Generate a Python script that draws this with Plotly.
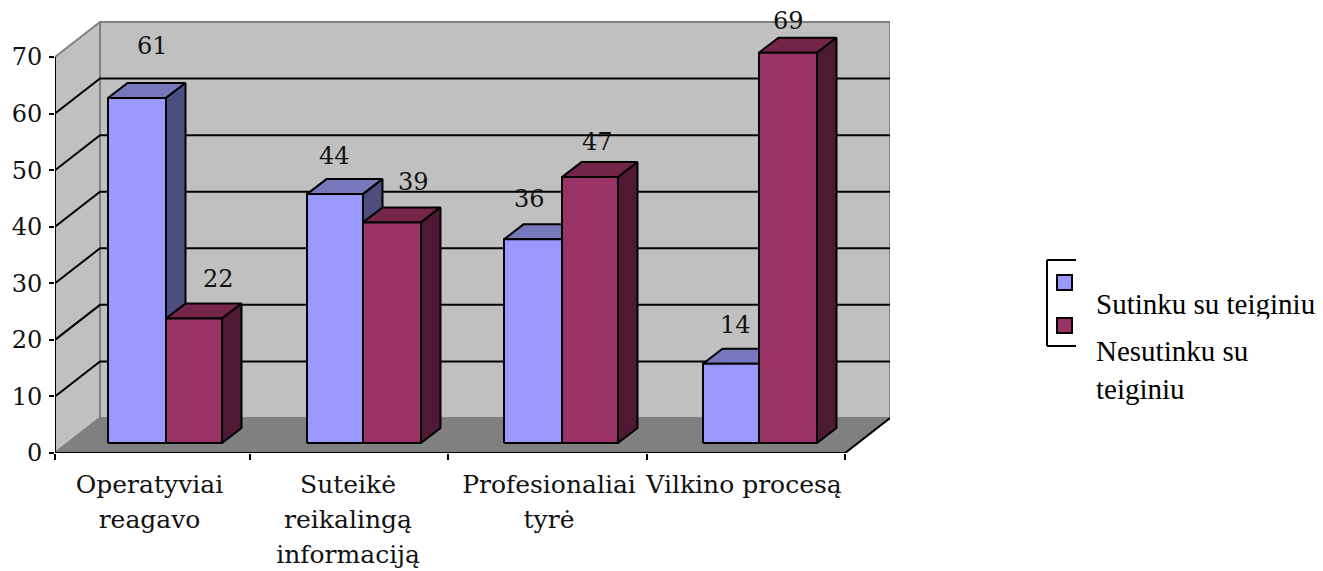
import plotly.graph_objects as go

# ---- data ----
categories = ["Operatyviai<br>reagavo", "Suteikė<br>reikalingą<br>informaciją",
              "Profesionaliai<br>tyrė", "Vilkino procesą"]
series_names = ["Sutinku su teiginiu", "Nesutinku su<br>teiginiu"]
sutinku = [61, 44, 36, 14]
nesutinku = [22, 39, 47, 69]
y_ticks = [0, 10, 20, 30, 40, 50, 60, 70]

# ---- layout constants (pixels of the 1323x571 page) ----
W, H = 1323, 571
L, T, R, B = 55, 20, 890, 453     # plot area
PX_X = 197.5                  # pixels per category
PX_Y = 5.657                  # pixels per unit
x_max = (R - L) / PX_X
y_max = (B - T) / PX_Y
WALL_DX, WALL_DY = 45 / PX_X, 35 / PX_Y
BAR_DX, BAR_DY = 19.5 / PX_X, 15 / PX_Y
BAR_X0 = [53 / PX_X, 252 / PX_X, 449 / PX_X, 648 / PX_X]
BAR_W1 = [58 / PX_X, 56 / PX_X, 58 / PX_X, 56 / PX_X]
BAR_W2 = [56 / PX_X, 58 / PX_X, 56 / PX_X, 58 / PX_X]
BAR_LIFT = 10 / PX_Y
LABEL_SHIFT_1 = [(15, 52), (-1, 38), (-4, 40), (4, 39)]
LABEL_SHIFT_2 = [(24, 40), (21, 40), (7, 35), (0, 32)]
CAT_LABEL_X = [94.5 / PX_X, 293 / PX_X, 494 / PX_X, 689 / PX_X]
CAT_TICK_X = [0, 195 / PX_X, 393 / PX_X, 592 / PX_X, 790 / PX_X]

BLUE = ("#9999FF", "#7777BB", "#4D4D80")
PLUM = ("#993366", "#732648", "#4D1933")
WALL = "#C0C0C0"
EDGE = "#808080"
SERIF = "DejaVu Serif"
ROMAN = "Liberation Serif"
NUM_SIZE = 24
CAT_SIZE = 25
LEGEND_SIZE = 29
STROKE = 2


def poly(xs, ys, fill, line="black", width=STROKE):
    return go.Scatter(x=xs + xs[:1], y=ys + ys[:1], mode="lines", fill="toself",
                      fillcolor=fill, line=dict(color=line, width=width, shape="linear"),
                      hoverinfo="skip", showlegend=False, cliponaxis=False)


def seg(xs, ys, color="black", width=STROKE):
    return go.Scatter(x=xs, y=ys, mode="lines", line=dict(color=color, width=width),
                      hoverinfo="skip", showlegend=False, cliponaxis=False)


def bar(x0, w, value, colors):
    x1, b, t = x0 + w, BAR_LIFT, BAR_LIFT + value
    return [
        poly([x0, x1, x1 + BAR_DX, x0 + BAR_DX], [t, t, t + BAR_DY, t + BAR_DY], colors[1]),
        poly([x1, x1 + BAR_DX, x1 + BAR_DX, x1], [b, b + BAR_DY, t + BAR_DY, t], colors[2]),
        poly([x0, x1, x1, x0], [b, b, t, t], colors[0]),
    ]


n = len(categories)
top = y_ticks[-1]
fig = go.Figure()
# walls and floor
fig.add_trace(poly([0, WALL_DX, WALL_DX, 0], [0, WALL_DY, top + WALL_DY, top], WALL, EDGE, 2))
fig.add_trace(poly([WALL_DX, n + WALL_DX, n + WALL_DX, WALL_DX],
                   [WALL_DY, WALL_DY, top + WALL_DY, top + WALL_DY], WALL, EDGE, 2))
fig.add_trace(poly([0, WALL_DX, n + WALL_DX, n], [0, WALL_DY, WALL_DY, 0], EDGE, EDGE, 2))
# gridlines
for v in y_ticks[1:-1]:
    fig.add_trace(seg([0, WALL_DX, n + WALL_DX], [v, v + WALL_DY, v + WALL_DY]))
# axis lines
fig.add_trace(seg([0, 0], [0, top]))
fig.add_trace(seg([0, n], [0, 0]))
fig.add_trace(seg([n, n + WALL_DX], [0, WALL_DY]))
# bars
for i in range(n):
    for t in bar(BAR_X0[i], BAR_W1[i], sutinku[i], BLUE):
        fig.add_trace(t)
    for t in bar(BAR_X0[i] + BAR_W1[i], BAR_W2[i], nesutinku[i], PLUM):
        fig.add_trace(t)

annotations = []
for i in range(n):
    for vals, x_of, shifts in ((sutinku, BAR_X0[i] + BAR_W1[i] / 2, LABEL_SHIFT_1),
                               (nesutinku, BAR_X0[i] + BAR_W1[i] + BAR_W2[i] / 2, LABEL_SHIFT_2)):
        annotations.append(dict(x=x_of, y=BAR_LIFT + vals[i], xref="x", yref="y",
                                text=str(vals[i]), showarrow=False,
                                xshift=shifts[i][0], yshift=shifts[i][1],
                                font=dict(family=SERIF, size=NUM_SIZE, color="#111111")))


def px(x):
    return (x - L) / (R - L)


def py(y):
    return (B - y) / (B - T)


shapes = []
for (x0, y0, x1, y1) in [(1047, 260, 1076, 260), (1047, 260, 1047, 346), (1047, 346, 1076, 346)]:
    shapes.append(dict(type="line", xref="paper", yref="paper", x0=px(x0), y0=py(y0), x1=px(x1), y1=py(y1),
                       line=dict(color="black", width=STROKE)))
for (y0, c) in [(275, BLUE[0]), (318, PLUM[0])]:
    shapes.append(dict(type="rect", xref="paper", yref="paper", x0=px(1057), x1=px(1072), y0=py(y0), y1=py(y0 + 15),
                       fillcolor=c, line=dict(color="black", width=STROKE)))
annotations.append(dict(x=px(1094), y=py(304), xref="paper", yref="paper", xanchor="left", yanchor="middle",
                        text=series_names[0], showarrow=False, font=dict(family=ROMAN, size=LEGEND_SIZE, color="black")))
annotations.append(dict(x=px(1095 - 18), y=py(370), xref="paper", yref="paper", xanchor="left", yanchor="middle", align="left",
                        text=series_names[1], showarrow=False, bgcolor="white", borderpad=18,
                        font=dict(family=ROMAN, size=LEGEND_SIZE, color="black")))

cat_ticktext = ["<br>".join(f'<span style="font-size:{CAT_SIZE}px">{p}</span>' for p in c.split("<br>"))
                for c in categories]

fig.update_layout(
    width=W, height=H, autosize=False,
    margin=dict(l=L, r=W - R, t=T, b=H - B, pad=0, autoexpand=False),
    paper_bgcolor="white", plot_bgcolor="white",
    showlegend=False, annotations=annotations, shapes=shapes,
    xaxis=dict(range=[0, x_max], automargin=False, showgrid=False, zeroline=False, showline=False,
               tickmode="array", tickvals=CAT_LABEL_X, ticktext=cat_ticktext,
               ticks="", ticklabelstandoff=12,
               tickfont=dict(family=SERIF, size=27, color="#111111"),
               minor=dict(tickmode="array", tickvals=CAT_TICK_X, ticks="outside",
                          ticklen=6, tickwidth=STROKE, tickcolor="black", showgrid=False)),
    yaxis=dict(range=[0, y_max], automargin=False, showgrid=False, zeroline=False, showline=False,
               tickmode="array", tickvals=y_ticks, ticks="outside", ticklen=5, tickwidth=STROKE,
               ticklabelstandoff=2,
               tickcolor="black", tickfont=dict(family=SERIF, size=NUM_SIZE, color="#111111")),
)
fig.write_html("out.html", config=dict(displayModeBar=False),
               post_script="document.body.style.margin='0';document.documentElement.style.overflow='hidden';")
